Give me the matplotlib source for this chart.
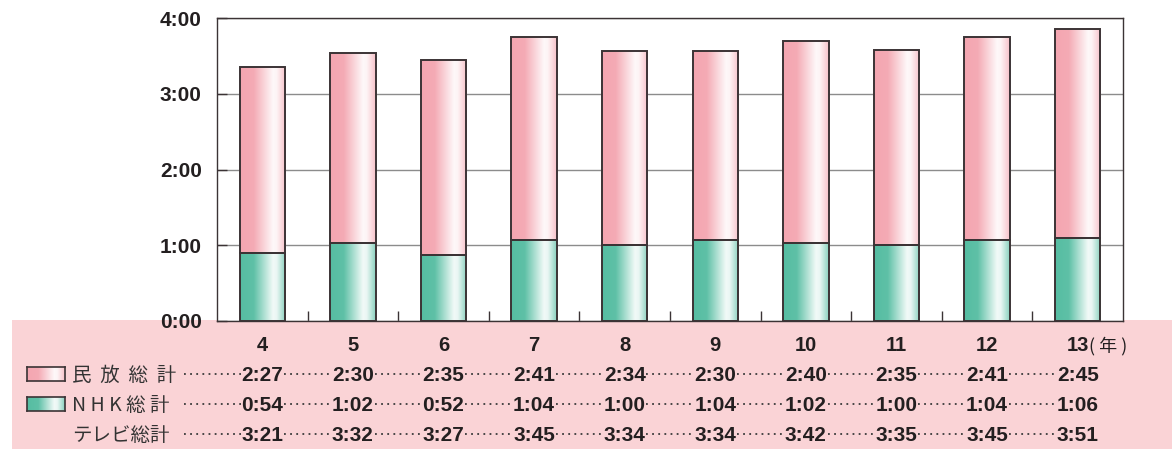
import numpy as np
import matplotlib
matplotlib.use('Agg')
import matplotlib.pyplot as plt
from matplotlib.patches import Rectangle
from matplotlib.colors import to_rgb
from matplotlib.transforms import blended_transform_factory

plt.rcParams['font.family'] = ['Liberation Sans', 'Noto Sans CJK JP', 'DejaVu Sans']

# 年 (平成)
years = ['4', '5', '6', '7', '8', '9', '10', '11', '12', '13']
# 1日あたりの視聴時間 (分)
minpo = [147, 150, 155, 161, 154, 150, 160, 155, 161, 165]   # 民放総計
nhk = [54, 62, 52, 64, 60, 64, 62, 60, 64, 66]               # NHK総計
total = [201, 212, 207, 225, 214, 214, 222, 215, 225, 231]   # テレビ総計
row_labels = ['民  放  総  計', 'N H K 総 計', 'テレビ総計']
yticks = [0, 60, 120, 180, 240]

PINK = '#f4a6b1'
TEAL = '#56bda2'
BAND = '#fad3d6'
TXT = '#231f20'
EDGE = '#3b3335'

W, H = 1172, 449


def hm(m):
    return '%d:%02d' % (m // 60, m % 60)


def gradient(base, n=200):
    # 左は地色、右寄りで白くなり、右端で少し戻る
    t = np.linspace(0, 1, n)
    w = np.interp(t, [0, 0.3, 0.72, 0.8, 1], [0, 0.05, 0.92, 0.88, 0.3])
    c = np.array(to_rgb(base))
    g = c[None, :] * (1 - w[:, None]) + w[:, None]
    return g[None, :, :]


fig = plt.figure(figsize=(W / 100, H / 100), dpi=100)
fig.add_artist(Rectangle((12 / W, 0), 1160 / W, 129 / H, transform=fig.transFigure,
                         facecolor=BAND, edgecolor='none', zorder=-1))

ax = fig.add_axes([217 / W, 1 - 321 / H, 906 / W, 303 / H])
x = np.arange(len(years))
b_nhk = ax.bar(x, nhk, width=0.5, facecolor='none', edgecolor=EDGE, lw=1.4, zorder=3)
b_min = ax.bar(x, minpo, width=0.5, bottom=nhk, facecolor='none', edgecolor=EDGE, lw=1.4, zorder=3)

for bars, col in ((b_nhk, TEAL), (b_min, PINK)):
    img = gradient(col)
    for p in bars:
        x0, y0 = p.get_x(), p.get_y()
        im = ax.imshow(img, extent=(x0, x0 + p.get_width(), y0, y0 + p.get_height()),
                       aspect='auto', interpolation='bilinear', zorder=2)
        im.set_clip_path(p)

ax.set_xlim(-0.5, len(years) - 0.5)
ax.set_ylim(0, 240)
ax.set_yticks(yticks)
ax.set_yticklabels([hm(v) for v in yticks], fontsize=15, fontweight='bold', color=TXT)
ax.set_xticks(x[:-1] + 0.5)
ax.set_xticklabels([])
ax.tick_params(axis='both', direction='in', length=7, width=1, color=EDGE)
ax.tick_params(axis='y', pad=11)
ax.grid(axis='y', color='#8c8c8c', lw=1)
ax.set_axisbelow(True)
for s in ax.spines.values():
    s.set_color(EDGE)
    s.set_linewidth(1)

# 下の表
blend = blended_transform_factory(ax.transData, fig.transFigure)
for i, y in enumerate(years):
    ax.text(i, 1 - 351 / H, y, transform=blend, ha='center', va='baseline',
            fontsize=14.5, fontweight='bold', color=TXT, clip_on=False)
ax.text(9.12, 1 - 351 / H, '( 年 )', transform=blend, ha='left', va='baseline',
        fontsize=13, color=TXT, family=['Noto Sans CJK JP', 'DejaVu Sans'], clip_on=False)

rows = [minpo, nhk, total]
baselines = [381, 411, 441]
for vals, lab, base in zip(rows, row_labels, baselines):
    yb = 1 - base / H
    ym = 1 - (base - 7) / H
    fig.text(72 / W, yb, lab, ha='left', va='baseline', fontsize=14, color='#333333',
             family=['Noto Sans CJK JP', 'DejaVu Sans'])
    for i, v in enumerate(vals):
        ax.text(i, yb, hm(v), transform=blend, ha='center', va='baseline',
                fontsize=15, fontweight='bold', color=TXT, clip_on=False)
        x_from = -0.86 if i == 0 else i - 1 + 0.24
        ax.plot([x_from, i - 0.24], [ym, ym], transform=blend, clip_on=False,
                ls=(0, (1, 2.4)), lw=1.3, color='#3a3a3a')

# 凡例の見本
for base, col in zip(baselines[:2], (PINK, TEAL)):
    sw = fig.add_axes([27 / W, 1 - base / H, 38 / W, 14 / H])
    sw.imshow(gradient(col), aspect='auto', interpolation='bilinear')
    sw.set_xticks([])
    sw.set_yticks([])
    for s in sw.spines.values():
        s.set_color(EDGE)
        s.set_linewidth(1.2)

fig.savefig('out.png', dpi=100)
